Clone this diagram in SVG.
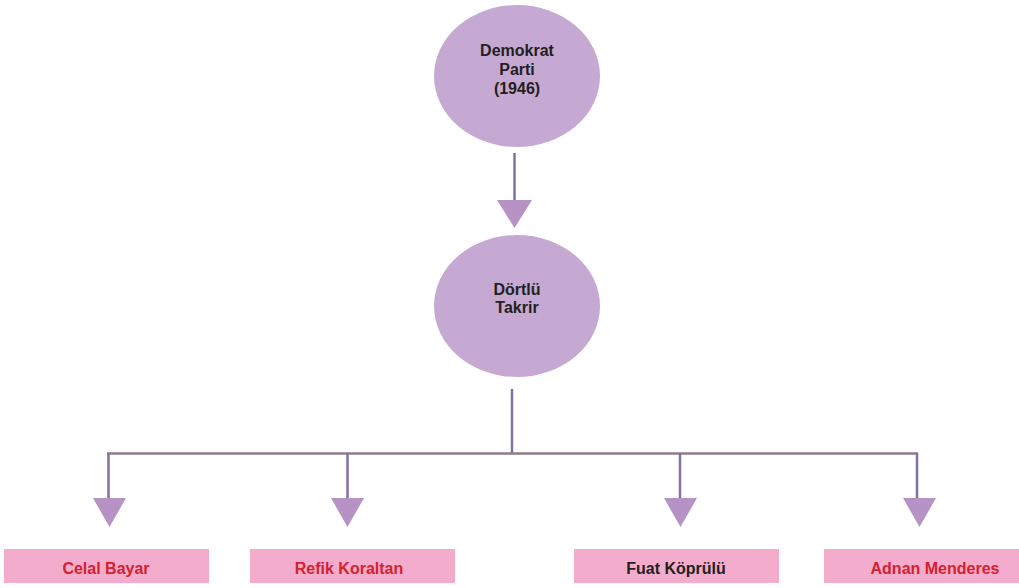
<svg xmlns="http://www.w3.org/2000/svg" width="1019" height="588" viewBox="0 0 1019 588">
<style>
.ell{fill:#c5a9d2}
.tri{fill:#b792c4}
.box{fill:#f3accc}
.t{font-family:"Liberation Sans",Arial,sans-serif;font-weight:bold;font-size:16px;text-anchor:middle}
.dark{fill:#231f20}
.red{fill:#d42130}
.v{stroke:#8170a3;stroke-width:2.5;fill:none}
.h{stroke:#8f7b8b;stroke-width:2.5;fill:none}
</style>
<rect width="1019" height="588" fill="#ffffff"/>
<g id="connectors">
<line class="v" x1="514.5" y1="153" x2="514.5" y2="201"/>
<polygon class="tri" points="497,200 532,200 514.5,228"/>
<line class="v" x1="512" y1="389" x2="512" y2="453"/>
<line class="h" x1="107" y1="453.5" x2="918" y2="453.5"/>
<line class="v" x1="108.5" y1="453" x2="108.5" y2="499"/>
<line class="v" x1="347.5" y1="453" x2="347.5" y2="499"/>
<line class="v" x1="680" y1="453" x2="680" y2="499"/>
<line class="v" x1="917" y1="453" x2="917" y2="499"/>
<polygon class="tri" points="93,498 126,498 109.5,527"/>
<polygon class="tri" points="331,498 364,498 347.5,527"/>
<polygon class="tri" points="664,498 697,498 680.5,527"/>
<polygon class="tri" points="903,498 936,498 919.5,527"/>
</g>
<g id="demokrat-parti">
<ellipse class="ell" cx="517" cy="76" rx="83" ry="71"/>
<text class="t dark" x="517" y="56">Demokrat</text>
<text class="t dark" x="517" y="75">Parti</text>
<text class="t dark" x="517" y="94">(1946)</text>
</g>
<g id="dortlu-takrir">
<ellipse class="ell" cx="517" cy="306" rx="83" ry="71"/>
<text class="t dark" x="517" y="295">Dörtlü</text>
<text class="t dark" x="517" y="313">Takrir</text>
</g>
<g id="celal-bayar">
<rect class="box" x="4" y="549" width="205" height="34"/>
<text class="t red" x="106" y="574">Celal Bayar</text>
</g>
<g id="refik-koraltan">
<rect class="box" x="250" y="549" width="205" height="34"/>
<text class="t red" x="349" y="574">Refik Koraltan</text>
</g>
<g id="fuat-koprulu">
<rect class="box" x="574" y="549" width="205" height="34"/>
<text class="t dark" x="676" y="574">Fuat Köprülü</text>
</g>
<g id="adnan-menderes">
<rect class="box" x="824" y="549" width="195" height="34"/>
<text class="t red" x="935" y="574">Adnan Menderes</text>
</g>
</svg>
